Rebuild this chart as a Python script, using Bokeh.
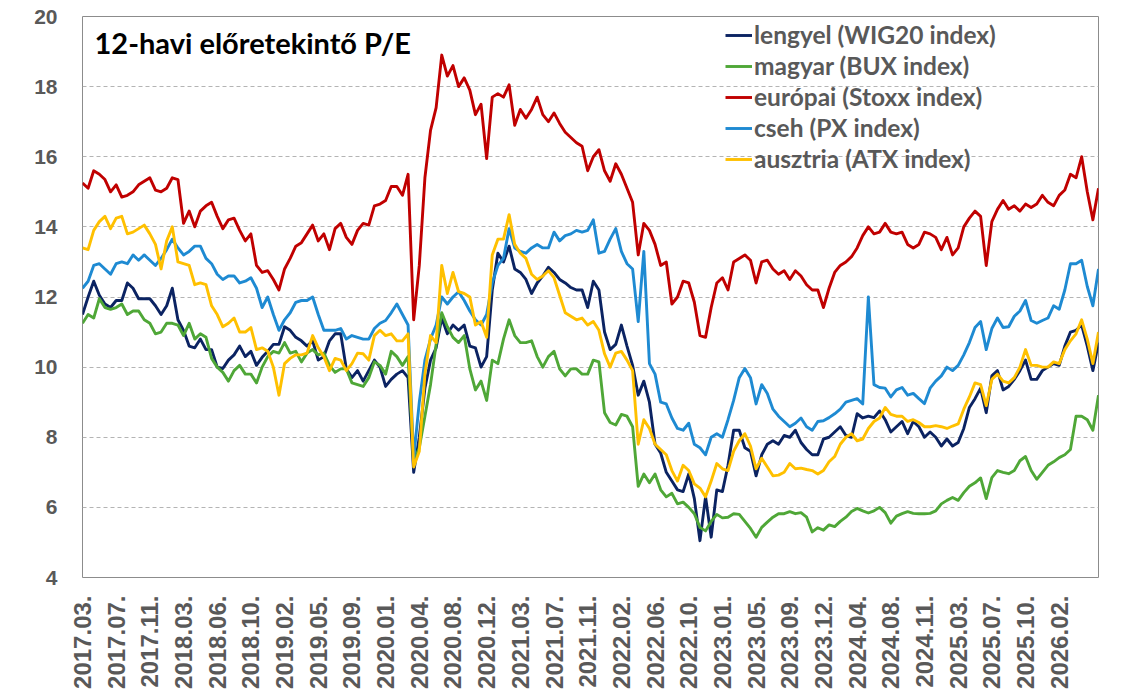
from math import pi

from bokeh.embed import file_html
from bokeh.models import (ColumnDataSource, FixedTicker, Label, Legend,
                          LegendItem, Range1d)
from bokeh.plotting import figure
from bokeh.resources import INLINE

# Tick labels along the bottom, one every six observations
tick_labels = [
    "2017.03.", "2017.07.", "2017.11.", "2018.03.", "2018.06.", "2018.10.",
    "2019.02.", "2019.05.", "2019.09.", "2020.01.", "2020.04.", "2020.08.",
    "2020.12.", "2021.03.", "2021.07.", "2021.11.", "2022.02.", "2022.06.",
    "2022.10.", "2023.01.", "2023.05.", "2023.09.", "2023.12.", "2024.04.",
    "2024.08.", "2024.11.", "2025.03.", "2025.07.", "2025.10.", "2026.02.",
]
obs_per_label = 6

# 12-month forward P/E ratios
lengyel = [
    11.5, 12.0, 12.45, 12.05, 11.8, 11.7, 11.9, 11.9, 12.4, 12.25,
    11.95, 11.95, 11.95, 11.75, 11.5, 11.75, 12.25, 11.35, 11.05, 10.6,
    10.55, 10.8, 10.5, 10.5, 10.0, 9.96, 10.2, 10.35, 10.6, 10.3,
    10.45, 10.05, 10.28, 10.45, 10.65, 10.65, 11.15, 11.05, 10.85, 10.75,
    10.6, 10.75, 10.2, 10.3, 10.75, 10.95, 10.95, 9.95, 9.7, 9.9,
    9.6, 9.9, 10.2, 10.0, 9.45, 9.65, 9.8, 9.9, 9.7, 7.0,
    8.0, 9.4, 10.2, 10.55, 11.4, 10.95, 11.2, 11.05, 11.2, 10.6,
    10.55, 10.0, 10.3, 12.2, 13.25, 13.0, 13.45, 12.8, 12.7, 12.5,
    12.1, 12.4, 12.6, 12.85, 12.7, 12.5, 12.4, 12.27, 12.2, 12.2,
    11.7, 12.45, 12.2, 11.0, 10.5, 10.65, 11.2, 10.6, 10.05, 9.2,
    9.6, 9.0, 7.8, 7.55, 7.0, 6.75, 6.5, 6.45, 6.95, 6.25,
    5.05, 6.3, 5.15, 6.5, 6.45, 7.2, 8.2, 8.2, 7.7, 7.6,
    6.9, 7.5, 7.8, 7.9, 7.8, 8.05, 8.0, 8.2, 7.85, 7.65,
    7.5, 7.5, 7.95, 8.0, 8.15, 8.3, 8.05, 8.0, 8.67, 8.55,
    8.6, 8.56, 8.75, 8.5, 8.15, 8.3, 8.45, 8.1, 8.45, 8.3,
    8.0, 8.15, 8.0, 7.75, 7.95, 7.75, 7.85, 8.25, 8.85, 9.1,
    9.4, 8.7, 9.75, 9.9, 9.35, 9.45, 9.65, 9.9, 10.2, 9.65,
    9.65, 9.9, 10.0, 10.1, 10.05, 10.6, 11.0, 11.05, 11.2, 10.6,
    9.9, 10.7,
]

magyar = [
    11.25, 11.5, 11.4, 11.95, 11.7, 11.65, 11.7, 11.8, 11.5, 11.6,
    11.6, 11.35, 11.25, 10.95, 11.0, 11.25, 11.25, 11.2, 10.9, 11.25,
    10.8, 10.95, 10.85, 10.25, 10.0, 9.85, 9.6, 9.9, 10.05, 9.8,
    9.8, 9.55, 10.0, 10.3, 10.45, 10.4, 10.7, 10.4, 10.45, 10.15,
    10.4, 10.5, 10.35, 10.4, 10.05, 9.85, 9.95, 9.95, 9.55, 9.5,
    9.45, 9.7, 10.15, 10.05, 9.8, 10.45, 10.3, 10.05, 10.3, 7.3,
    7.7, 8.6, 9.5, 10.65, 11.55, 11.15, 10.85, 10.7, 10.9, 9.95,
    9.35, 9.6, 9.05, 10.2, 10.1, 10.8, 11.35, 10.9, 10.7, 10.7,
    10.75, 10.3, 10.0, 10.3, 10.45, 9.95, 9.75, 9.95, 9.95, 9.8,
    9.8, 10.2, 10.15, 8.7, 8.42, 8.35, 8.65, 8.6, 8.3, 6.6,
    6.95, 6.7, 6.95, 6.5, 6.3, 6.4, 6.1, 6.15, 6.0, 5.82,
    5.43, 5.33, 5.6, 5.8, 5.7, 5.72, 5.82, 5.8, 5.6, 5.4,
    5.15, 5.43, 5.58, 5.72, 5.82, 5.82, 5.88, 5.82, 5.85, 5.72,
    5.3, 5.42, 5.35, 5.5, 5.45, 5.6, 5.72, 5.88, 5.97, 5.9,
    5.84, 5.9, 6.0, 5.85, 5.55, 5.75, 5.82, 5.88, 5.83, 5.82,
    5.82, 5.83, 5.9, 6.1, 6.2, 6.28, 6.2, 6.42, 6.6, 6.7,
    6.84, 6.25, 6.85, 7.05, 7.0, 6.96, 7.05, 7.33, 7.45, 7.05,
    6.8, 7.0, 7.2, 7.3, 7.42, 7.5, 7.65, 8.6, 8.6, 8.5,
    8.2, 9.2,
]

europai = [
    15.25, 15.1, 15.6, 15.5, 15.35, 15.0, 15.2, 14.85, 14.9, 15.0,
    15.2, 15.3, 15.4, 15.05, 15.0, 15.1, 15.4, 15.35, 14.1, 14.45,
    14.0, 14.45, 14.6, 14.7, 14.3, 13.95, 14.2, 14.25, 13.9, 13.6,
    13.8, 12.9, 12.7, 12.75, 12.5, 12.2, 12.8, 13.1, 13.45, 13.55,
    13.8, 14.05, 13.6, 13.8, 13.35, 13.95, 14.1, 13.7, 13.5, 13.9,
    14.1, 14.05, 14.6, 14.65, 14.75, 15.15, 15.15, 14.9, 15.5, 11.35,
    12.9, 15.4, 16.75, 17.4, 18.9, 18.3, 18.6, 18.0, 18.25, 17.9,
    17.2, 17.5, 15.95, 17.7, 17.8, 17.7, 18.05, 16.9, 17.35, 17.1,
    17.35, 17.7, 17.2, 17.0, 17.25, 16.95, 16.7, 16.55, 16.4, 16.3,
    15.6, 16.0, 16.2, 15.6, 15.3, 15.8, 15.5, 15.1, 14.7, 13.2,
    14.1, 13.9, 13.5, 12.9, 13.0, 11.8, 12.0, 12.45, 12.4, 11.85,
    10.9, 10.85, 11.7, 12.4, 12.55, 12.2, 13.0, 13.1, 13.2, 13.05,
    12.4, 13.0, 13.05, 12.8, 12.65, 12.75, 12.5, 12.75, 12.6, 12.35,
    12.2, 12.2, 11.7, 12.25, 12.7, 12.9, 13.0, 13.15, 13.4, 13.75,
    14.0, 13.8, 13.85, 14.1, 13.85, 13.8, 13.85, 13.5, 13.4, 13.5,
    13.85, 13.8, 13.7, 13.35, 13.7, 13.2, 13.4, 14.0, 14.25, 14.45,
    14.3, 12.9, 14.15, 14.5, 14.75, 14.5, 14.6, 14.45, 14.65, 14.55,
    14.65, 14.9, 14.7, 14.6, 14.9, 15.05, 15.5, 15.4, 16.0, 15.0,
    14.2, 15.1,
]

cseh = [
    12.25, 12.45, 12.9, 12.95, 12.8, 12.65, 12.95, 13.0, 12.95, 13.2,
    13.05, 13.2, 13.05, 12.9, 13.1, 13.35, 13.65, 13.4, 13.2, 13.3,
    13.45, 13.45, 13.1, 12.95, 12.65, 12.5, 12.6, 12.6, 12.4, 12.45,
    12.55, 12.25, 11.7, 12.0, 11.5, 11.05, 11.35, 11.55, 11.85, 11.9,
    11.9, 12.0, 11.5, 11.05, 11.05, 11.05, 11.1, 10.8, 10.9, 10.85,
    10.8, 10.8, 11.1, 11.25, 11.33, 11.55, 11.8, 11.5, 11.2, 7.4,
    9.0, 10.2, 10.8, 11.2, 12.0, 11.8, 12.0, 12.15, 11.9, 11.6,
    11.35, 11.2, 11.5, 12.4, 12.9, 13.1, 13.95, 13.4, 13.3, 13.25,
    13.4, 13.5, 13.4, 13.4, 13.85, 13.6, 13.75, 13.8, 13.9, 13.85,
    13.9, 14.2, 13.25, 13.3, 13.65, 13.95, 13.3, 12.95, 12.8, 11.3,
    13.3, 10.1, 9.8, 9.0, 8.95, 8.55, 8.25, 8.2, 8.4, 7.8,
    7.7, 7.5, 8.0, 8.1, 8.0, 8.5, 9.05, 9.7, 9.96, 9.7,
    8.95, 9.5, 9.25, 8.8, 8.6, 8.45, 8.3, 8.4, 8.55, 8.3,
    8.2, 8.45, 8.47, 8.56, 8.67, 8.8, 9.0, 9.05, 9.1, 8.95,
    12.0, 9.5, 9.42, 9.4, 9.15, 9.35, 9.42, 9.2, 9.25, 9.1,
    8.96, 9.4, 9.6, 9.75, 10.0, 9.9, 10.05, 10.35, 10.7, 11.13,
    11.3, 10.5, 11.1, 11.4, 11.13, 11.15, 11.45, 11.6, 11.9, 11.33,
    11.25, 11.33, 11.4, 11.75, 11.65, 12.2, 12.95, 12.95, 13.05, 12.3,
    11.75, 12.8,
]

ausztria = [
    13.4, 13.35, 13.9, 14.15, 14.3, 13.95, 14.25, 14.3, 13.8, 13.85,
    13.95, 14.05, 13.8, 13.5, 12.8, 13.6, 14.0, 13.0, 12.95, 12.9,
    12.35, 12.4, 12.35, 11.75, 11.5, 11.15, 11.25, 11.4, 11.0, 11.0,
    11.13, 10.5, 10.55, 10.45, 10.0, 9.2, 10.1, 10.25, 10.35, 10.35,
    10.4, 10.9, 10.55, 10.3, 9.9, 10.25, 10.2, 9.9, 10.1, 10.4,
    10.38, 10.2, 10.9, 11.05, 10.9, 10.95, 10.75, 10.75, 10.95, 7.15,
    7.6, 9.8, 10.9, 10.7, 12.9, 12.1, 12.7, 12.15, 12.1, 12.0,
    11.2, 11.3, 10.85, 13.2, 13.65, 13.65, 14.35, 13.5, 13.25, 13.1,
    12.65, 12.5, 12.6, 12.75, 12.55, 12.05, 11.55, 11.45, 11.35, 11.4,
    11.2, 11.3, 11.05, 10.38, 10.0, 10.4, 10.45, 10.2, 9.9, 7.8,
    8.5, 8.25, 7.8, 7.65, 7.5, 7.05, 6.75, 7.2, 7.05, 6.67,
    6.55, 6.3, 6.75, 7.25, 7.1, 7.05, 7.6, 7.9, 8.1, 7.75,
    7.1, 7.4, 7.15, 6.9, 6.92, 7.0, 7.25, 7.1, 7.12, 7.08,
    7.05, 6.95, 7.05, 7.3, 7.45, 7.8, 8.0, 8.1, 7.9, 7.95,
    8.25, 8.45, 8.55, 8.85, 8.65, 8.6, 8.6, 8.45, 8.5, 8.42,
    8.3, 8.3, 8.33, 8.3, 8.25, 8.32, 8.38, 8.8, 9.15, 9.55,
    9.5, 8.9, 9.65, 9.8, 9.6, 9.55, 9.7, 10.0, 10.5, 10.05,
    10.05, 10.0, 10.0, 10.15, 10.1, 10.5, 10.75, 10.95, 11.35, 10.8,
    10.1, 11.0,
]

series = [
    ("lengyel (WIG20 index)", "lengyel", "#0b2362"),
    ("magyar (BUX index)", "magyar", "#4fa737"),
    ("európai (Stoxx index)", "europai", "#c00000"),
    ("cseh (PX index)", "cseh", "#1e8ad2"),
    ("ausztria (ATX index)", "ausztria", "#ffc000"),
]

n_obs = len(lengyel)
source = ColumnDataSource(dict(
    idx=list(range(n_obs)),
    lengyel=lengyel, magyar=magyar, europai=europai,
    cseh=cseh, ausztria=ausztria,
))

p = figure(
    width=1125, height=696,
    x_range=Range1d(0, n_obs - 1), y_range=Range1d(4, 20),
    output_backend="svg", toolbar_location=None,
    min_border_left=82, min_border_right=27,
    min_border_top=16, min_border_bottom=119,
    background_fill_color="white", border_fill_color="white",
)
p.outline_line_color = "#8c8c8c"
p.outline_line_width = 1

label_color = "#595959"

# y axis
p.yaxis.ticker = FixedTicker(ticks=list(range(4, 21, 2)))
p.yaxis.axis_line_color = None
p.yaxis.major_tick_line_color = None
p.yaxis.minor_tick_line_color = None
p.yaxis.major_tick_in = 0
p.yaxis.major_tick_out = 0
p.yaxis.major_label_standoff = 25
p.yaxis.major_label_text_font = "Liberation Sans"
p.yaxis.major_label_text_font_style = "bold"
p.yaxis.major_label_text_font_size = "21px"
p.yaxis.major_label_text_color = label_color

# x axis with rotated date labels
tick_pos = [k * obs_per_label for k in range(len(tick_labels))]
p.xaxis.ticker = FixedTicker(ticks=tick_pos)
p.xaxis.major_label_overrides = {t: lab for t, lab in zip(tick_pos, tick_labels)}
p.xaxis.major_label_orientation = pi / 2
p.xaxis.axis_line_color = None
p.xaxis.major_tick_line_color = None
p.xaxis.minor_tick_line_color = None
p.xaxis.major_tick_in = 0
p.xaxis.major_tick_out = 0
p.xaxis.major_label_standoff = 18
p.xaxis.major_label_text_font = "Liberation Sans"
p.xaxis.major_label_text_font_style = "bold"
p.xaxis.major_label_text_font_size = "24px"
p.xaxis.major_label_text_color = label_color

# grid
p.xgrid.grid_line_color = None
p.ygrid.grid_line_color = "#b4b4b4"
p.ygrid.grid_line_dash = "4 3"
p.ygrid.grid_line_width = 1

items = []
for name, col, color in series:
    r = p.line("idx", col, source=source, line_color=color, line_width=2.9,
               line_join="round")
    items.append(LegendItem(label=name, renderers=[r]))

legend = Legend(
    items=items, location=(643, 404),
    glyph_width=27, glyph_height=24, label_height=24,
    label_standoff=2, spacing=2, padding=0, margin=0,
    border_line_color=None, background_fill_alpha=0,
    label_text_font="Lato", label_text_font_style="bold",
    label_text_font_size="24.5px", label_text_color=label_color,
)
p.add_layout(legend)

title = Label(
    x=12, y=535, x_units="screen", y_units="screen",
    text="12-havi előretekintő P/E",
    text_font="Lato", text_font_size="29px", text_font_style="bold",
    text_color="black", text_baseline="alphabetic",
)
p.add_layout(title)

open("out.html", "w").write(file_html(p, INLINE))
